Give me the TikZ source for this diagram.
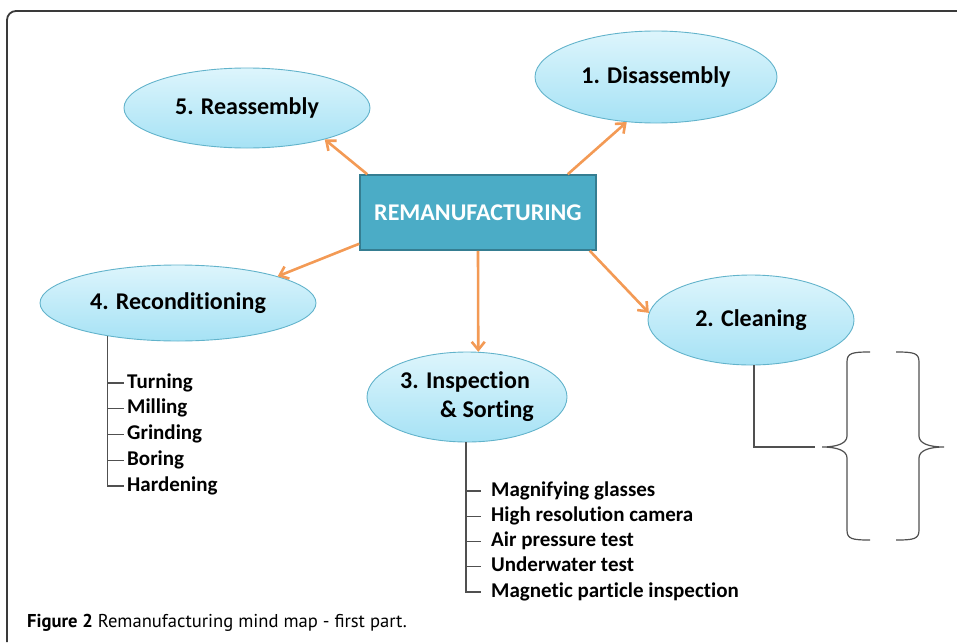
\documentclass[tikz,border=0pt]{standalone}
\usepackage{fontspec}
\setmainfont{Carlito}[Ligatures=NoCommon]
\newfontfamily\capfont{PT Sans}
\usetikzlibrary{shapes.geometric,arrows.meta}
\definecolor{arrowc}{HTML}{F39A55}
\definecolor{btop}{HTML}{DDF5FC}
\definecolor{bbot}{HTML}{A6E2F5}
\definecolor{bline}{HTML}{62B3CB}
\definecolor{remfill}{HTML}{4BACC6}
\definecolor{remline}{HTML}{357D91}
\definecolor{treec}{HTML}{505050}
\definecolor{framec}{HTML}{3A3A3A}
\begin{document}
\begin{tikzpicture}[x=1pt,y=-1pt,
  bubble/.style={ellipse, draw=bline, line width=0.9pt, top color=btop, bottom color=bbot,
    font=\bfseries\fontsize{24}{29}\selectfont, inner sep=0pt},
  centralbox/.style={draw=remline, fill=remfill, line width=1.5pt, text=white,
    font=\bfseries\fontsize{24}{28}\selectfont},
  arr/.style={draw=arrowc, line width=2.6pt, -{Straight Barb[length=8pt,width=13pt]}},
  tree/.style={draw=treec, line width=1.2pt},
  item/.style={anchor=west, inner sep=1pt, text height=14pt, text depth=4pt,
    font=\bfseries\fontsize{21}{24}\selectfont},
  frameline/.style={draw=framec, line width=1.8pt, rounded corners=9pt}]
\useasboundingbox (0,0) rectangle (957,642);
\draw[frameline] (7,642) -- (7,11) -- (957,11);

% central box and bubbles
\node[centralbox, minimum width=236, minimum height=75] (rem) at (478,212.5) {REMANUFACTURING};
\node[bubble, minimum width=246, minimum height=80] (reas) at (247,108) {5. Reassembly};
\node[bubble, minimum width=242, minimum height=92] (dis) at (656,77) {1. Disassembly};
\node[bubble, minimum width=276, minimum height=76] (rec) at (178,303) {4. Reconditioning};
\node[bubble, minimum width=206, minimum height=90] (clean) at (751,320) {2. Cleaning};
\node[bubble, minimum width=200, minimum height=90, align=left] (insp) at (467,397) {3. Inspection\\\hspace*{40pt}\& Sorting};

% arrows
\draw[arr] ([xshift=8pt]rem.north west) -- (reas.-22);
\draw[arr] ([xshift=-29pt]rem.north east) -- (dis.237);
\draw[arr] ([yshift=7pt]rem.south west) -- (rec.15);
\draw[arr] (rem.south) -- (insp.76);
\draw[arr] ([xshift=-7pt]rem.south east) -- (clean.176);

% reconditioning list
\foreach \t [count=\i] in {Turning,Milling,Grinding,Boring,Hardening}
  \node[item] (r\i) at (126,383+25.75*\i-25.75) {\t};
\coordinate (rtop) at (rec.205);
\draw[tree] (rtop) |- ([xshift=-2pt]r5.west);
\foreach \i in {1,2,3,4}
  \draw[tree] (rtop |- r\i.west) -- ([xshift=-2pt]r\i.west);

% inspection list
\foreach \t [count=\i] in {Magnifying glasses,High resolution camera,Air pressure test,Underwater test,Magnetic particle inspection}
  \node[item] (s\i) at (490,491+25.25*\i-25.25) {\t};
\coordinate (stop) at ([xshift=-1pt]insp.south);
\draw[tree] (stop) |- ([xshift=-9pt]s5.west);
\foreach \i in {1,2,3,4}
  \draw[tree] (stop |- s\i.west) -- ([xshift=-9pt]s\i.west);

% cleaning branch and braces
\coordinate (bt) at (815,447);
\draw[tree] ([xshift=3pt]clean.south) |- (bt);
\draw[tree] (870,352) .. controls (852,352) and (847,353) .. (847,362) -- (847,436)
  .. controls (847,443) and (838,447) .. (822,447)
  .. controls (838,447) and (847,451) .. (847,458) -- (847,530)
  .. controls (847,539) and (852,540) .. (870,540);
\draw[tree] (896,352) .. controls (914,352) and (919,353) .. (919,362) -- (919,436)
  .. controls (919,443) and (928,447) .. (944,447)
  .. controls (928,447) and (919,451) .. (919,458) -- (919,530)
  .. controls (919,539) and (914,540) .. (896,540);

% caption
\node[anchor=base west, inner sep=0pt, font=\capfont\fontsize{18.6}{22}\selectfont] (cap) at (27,627)
  {\textbf{Figure 2} Remanufacturing mind map - first part.};
\end{tikzpicture}
\end{document}
